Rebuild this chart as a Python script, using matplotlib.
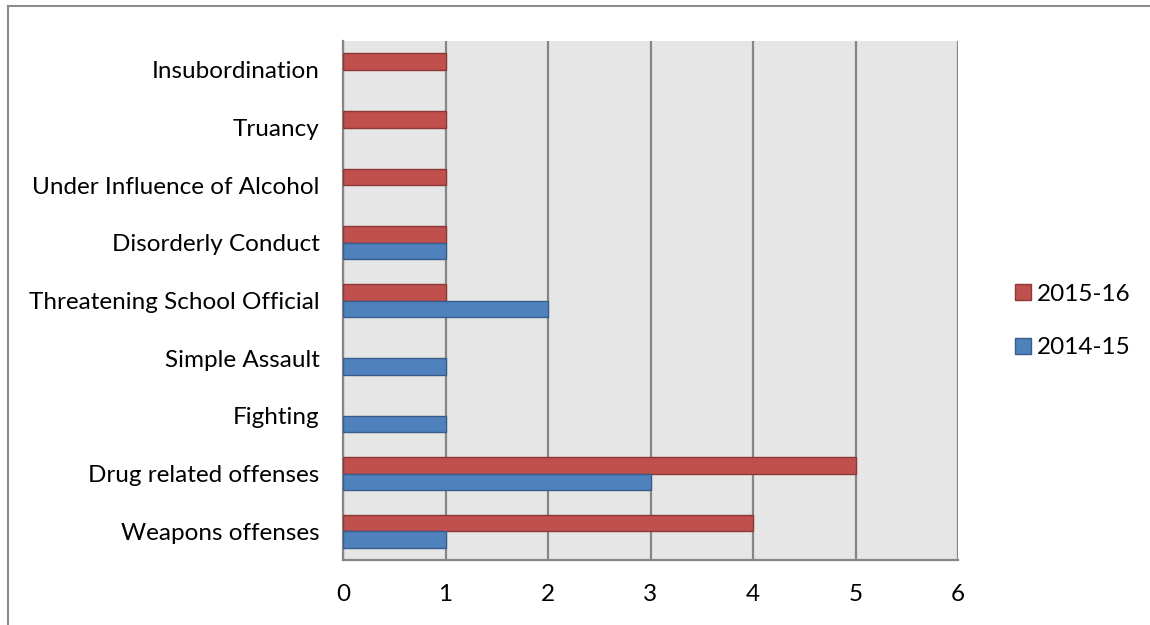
import matplotlib
matplotlib.use("Agg")
import matplotlib.pyplot as plt
import numpy as np
from matplotlib.patches import Patch
from matplotlib.lines import Line2D

categories = [
    "Weapons offenses",
    "Drug related offenses",
    "Fighting",
    "Simple Assault",
    "Threatening School Official",
    "Disorderly Conduct",
    "Under Influence of Alcohol",
    "Truancy",
    "Insubordination",
]
values_2015_16 = [4, 5, 0, 0, 1, 1, 1, 1, 1]
values_2014_15 = [1, 3, 1, 1, 2, 1, 0, 0, 0]
x_ticks = [0, 1, 2, 3, 4, 5, 6]

plt.rcParams["font.family"] = ["Lato", "DejaVu Sans"]

red_fill, red_edge = "#c0504d", "#8c3836"
blue_fill, blue_edge = "#4f81bd", "#385d8a"
grid_color = "#868686"
label_size = 17.5

fig = plt.figure(figsize=(11.5, 6.25), dpi=100)
ax = fig.add_axes([343 / 1150, 1 - 560 / 625, (958 - 343) / 1150, (560 - 41) / 625])
ax.set_facecolor("#e6e6e6")

y = np.arange(len(categories))
h = 0.287


def edge_widths(vals):
    # empty bars get no outline so nothing shows at zero
    return [1.0 if v else 0.0 for v in vals]


ax.barh(y + h / 2, values_2015_16, height=h, color=red_fill, edgecolor=red_edge,
        linewidth=edge_widths(values_2015_16), zorder=3)
ax.barh(y - h / 2, values_2014_15, height=h, color=blue_fill, edgecolor=blue_edge,
        linewidth=edge_widths(values_2014_15), zorder=3)

ax.set_xlim(0, 6)
ax.set_ylim(-0.5, len(categories) - 0.5)
ax.set_xticks(x_ticks)
ax.set_xticklabels([str(t) for t in x_ticks])
ax.set_yticks(y)
ax.set_yticklabels(categories)
ax.tick_params(axis="both", length=0, labelsize=label_size, colors="black")
ax.tick_params(axis="y", pad=17)
ax.tick_params(axis="x", pad=17)

ax.xaxis.grid(True, color=grid_color, linewidth=1.6, zorder=1)
ax.set_axisbelow(True)
for side in ("top", "right"):
    ax.spines[side].set_visible(False)
for side in ("left", "bottom"):
    ax.spines[side].set_color(grid_color)
    ax.spines[side].set_linewidth(1.6)

handles = [
    Patch(facecolor=red_fill, edgecolor=red_edge, linewidth=1.0, label="2015-16"),
    Patch(facecolor=blue_fill, edgecolor=blue_edge, linewidth=1.0, label="2014-15"),
]
fig.legend(handles=handles, loc="center left", bbox_to_anchor=(1003 / 1150, 1 - 321 / 625),
           frameon=False, fontsize=label_size, handlelength=0.65, handleheight=0.65,
           handletextpad=0.25, labelspacing=1.35, borderpad=0)

# outer chart frame (top and left edges)
fig.add_artist(Line2D([8 / 1150, 1], [1 - 6 / 625, 1 - 6 / 625], transform=fig.transFigure,
                      color="#8c8c8c", linewidth=1.5))
fig.add_artist(Line2D([8 / 1150, 8 / 1150], [0, 1 - 6 / 625], transform=fig.transFigure,
                      color="#8c8c8c", linewidth=1.5))

fig.savefig("out.png", dpi=100)
